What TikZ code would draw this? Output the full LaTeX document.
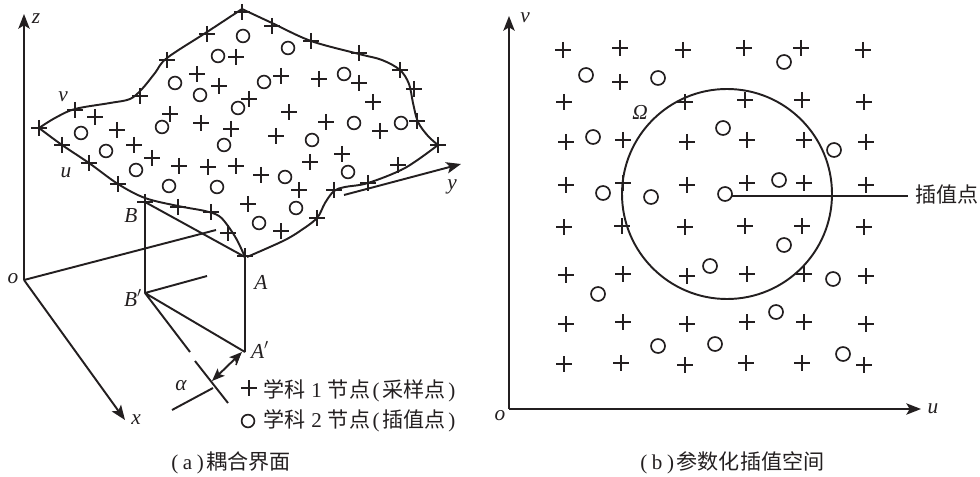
\documentclass[tikz,border=0pt]{standalone}
\usepackage{fontspec}
\setmainfont{Liberation Serif}
\newfontfamily\cjk{Noto Sans CJK SC}
\usetikzlibrary{arrows.meta}
\definecolor{ink}{HTML}{231F20}
\newcommand{\lp}{\kern2pt{\rmfamily(}\kern2pt}
\newcommand{\rp}{\kern2pt{\rmfamily)}}
\tikzset{
  ln/.style={draw=ink,line width=1.45pt},
  thinln/.style={draw=ink,line width=1.1pt},
  arr/.style={ln,-{Stealth[length=11pt,width=8.5pt,inset=2.5pt]}},
  darr/.style={ln,{Stealth[length=9.5pt,width=7.5pt,inset=2pt]}-{Stealth[length=9.5pt,width=7.5pt,inset=2pt]}},
  lab/.style={text=ink,font=\itshape\fontsize{16}{18}\selectfont,inner sep=0pt},
  cn/.style={text=ink,font=\cjk\fontsize{15.8}{18}\selectfont,inner sep=0pt},
  smoothln/.style={ln,smooth,tension=0.55},
  mk/.style={draw=ink,line width=1.25pt},
}
\begin{document}
\begin{tikzpicture}[x=0.75pt,y=-0.75pt]
\useasboundingbox (0,0) rectangle (980,477);
% --- left: axes
\coordinate (o) at (24,280);
\coordinate (zt) at (24,14);
\coordinate (xt) at (125,420);
\coordinate (ym) at (216,230);
\coordinate (y1) at (344,195);
\coordinate (yt) at (461,164);
\coordinate (A) at (245,257);
\coordinate (B) at (145,202);
\coordinate (Ap) at (245,352);
\coordinate (Bp) at (145,293);
\coordinate (b1) at (207,276);
\coordinate (b2) at (190,352);
\coordinate (c1) at (195,361);
\coordinate (c2) at (228,403);
\coordinate (d1) at (172,410);
\coordinate (d2) at (213,388);
\coordinate (e1) at (212,381);
\coordinate (e2) at (242,352);
\coordinate (f1) at (240,354);
\coordinate (f2) at (236,365);
\draw[arr] (o) -- (zt);
\draw[arr] (o) -- (xt);
\draw[ln] (o) -- (ym);
\draw[arr] (y1) -- (yt);
\draw[ln] (B) -- (Bp) (B) -- (A) -- (Ap) (Bp) -- (Ap) (Bp) -- (b1) (Bp) -- (b2) (c1) -- (c2) (d1) -- (d2);
\draw[darr] (e1) -- (e2);
\draw[thinln] (f1) -- (f2);
% surface outline
\draw[smoothln] plot coordinates {(39,128) (55,118) (75,109) (110,103) (130,99) (142,89) (155,73) (167,58) (207,32) (242,9)};
\draw[smoothln] plot coordinates {(242,9) (272,23) (311,41) (359,54) (382,60) (400,70) (409,84) (413,103) (418,122) (428,136) (438,145)};
\draw[smoothln] plot coordinates {(438,145) (405,168) (368,183) (345,187) (334,191) (325,203) (317,218) (300,231) (283,241) (247,257)};
\draw[smoothln] plot coordinates {(245,257) (237,240) (228,226) (219,216) (205,211) (178,206) (145,198) (118,184) (89,163) (62,145) (39,128)};
% left plus marks
\foreach \x/\y in {39/128,75/110,140/96,167/60,207/34,242/12,272/26,311/41,359/53,400/70,414/89,417/121,438/145,398/165,368/183,334/190,317/218,62/145,89/163,118/184,145/202,178/207,211/212,228/233,245/256,
 95/117,117/130,134/145,152/158,179/166,208/167,236/166,248/204,170/114,201/123,231/129,197/74,219/86,236/57,249/99,281/76,319/79,359/83,373/102,289/112,326/122,380/131,276/136,342/154,310/162,261/175,299/190,281/231,249/388}
 {\draw[mk] (\x,\y) ++(-8,0) -- ++(16,0) (\x,\y) ++(0,-8) -- ++(0,16);}
% left circles
\foreach \x/\y in {81/133,106/151,136/170,169/186,217/187,162/127,200/95,175/83,218/56,243/36,238/108,224/145,288/48,264/82,344/74,354/123,401/123,312/140,348/172,285/177,296/208,259/223,248/421}
 {\draw[mk] (\x,\y) circle[radius=6.4];}
% left labels
\node[lab] (lz) at (36,19) {z};
\node[lab] (lv) at (63,97) {v};
\node[lab] (lu) at (66,173) {u};
\node[lab] (lB) at (131,216) {B};
\node[lab] (lo) at (13,279) {o};
\node[lab] (lBp) at (133,298) {B$'$};
\node[lab] (lA) at (261,282) {A};
\node[lab] (lAp) at (260,350) {A$'$};
\node[lab] (la) at (181,386) {α};
\node[lab] (lx) at (136,420) {x};
\node[lab] (ly) at (452,187) {y};
\node[cn,anchor=west] (leg1) at (263,391) {学科\kern4.5pt{\rmfamily 1}\kern4.5pt 节点\lp 采样点\rp};
\node[cn,anchor=west] (leg2) at (263,421) {学科\kern4.5pt{\rmfamily 2}\kern4.5pt 节点\lp 插值点\rp};
\node[cn,anchor=west] (capa) at (171,463) {{\rmfamily(\kern3.5pt a\kern3.5pt)}\kern2pt 耦合界面};
% --- right: axes
\coordinate (o2) at (509,409);
\coordinate (vt) at (509,16);
\coordinate (ut) at (921,409);
\coordinate (ip) at (731,196);
\coordinate (ipe) at (908,196);
\draw[arr] (o2) -- (vt);
\draw[arr] (o2) -- (ut);
\draw[ln] (727,194) circle[radius=105];
\draw[thinln] (ip) -- (ipe);
\foreach \x/\y in {563/50,620/48,683/50,744/48,801/48,863/50,
 620/82,564/102,685/102,745/100,802/100,864/102,
 566/142,623/140,687/142,747/140,804/140,866/142,
 566/185,623/183,687/185,747/183,804/183,866/185,
 564/227,622/226,685/227,745/226,802/226,864/227,
 566/275,623/274,687/276,747/274,804/274,866/276,
 566/324,623/322,687/324,747/322,804/322,866/324,
 564/364,621/363,685/365,746/363,802/363,864/365}
 {\draw[mk] (\x,\y) ++(-8,0) -- ++(16,0) (\x,\y) ++(0,-8) -- ++(0,16);}
\foreach \x/\y in {586/75,658/78,593/137,603/193,651/197,723/128,725/194,784/62,834/150,779/180,784/245,710/266,833/279,598/294,776/312,658/346,715/344,843/354}
 {\draw[mk] (\x,\y) circle[radius=7];}
\node[lab] (rv) at (525,18) {v};
\node[lab] (ru) at (933,409) {u};
\node[lab] (ro) at (500,416) {o};
\node[lab] (rO) at (640,112) {Ω};
\node[cn,anchor=west] (rlab) at (915,195) {插值点};
\node[cn,anchor=west] (capb) at (640,463) {{\rmfamily(\kern3.5pt b\kern3.5pt)}\kern2pt 参数化插值空间};
\end{tikzpicture}
\end{document}
